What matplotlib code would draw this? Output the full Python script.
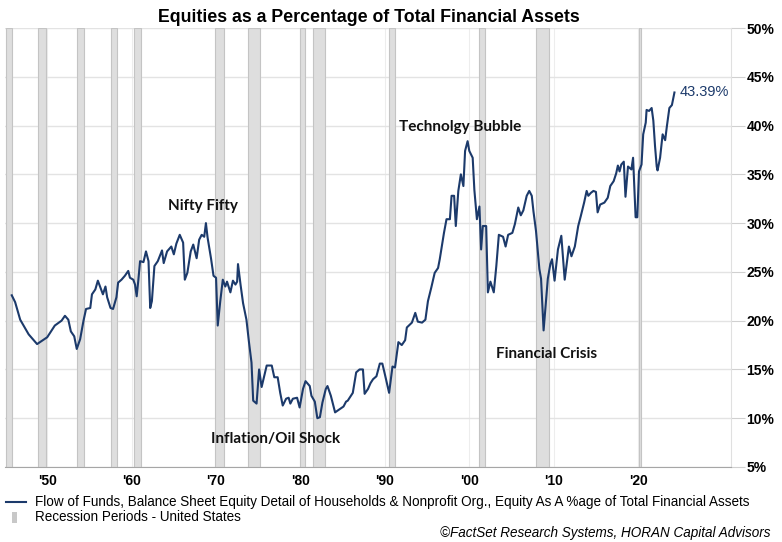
import matplotlib
matplotlib.use("Agg")
import matplotlib.pyplot as plt
from matplotlib.lines import Line2D
from matplotlib.patches import Rectangle

# equity share of total financial assets (%)
years = [1945.8, 1946.2, 1946.8, 1947.8, 1948.8, 1950.0, 1950.9, 1951.7, 1952.1, 1952.5,
         1952.8, 1953.2, 1953.5, 1953.9, 1954.3, 1954.6, 1955.1, 1955.3, 1955.7, 1956.0,
         1956.3, 1956.6, 1956.9, 1957.1, 1957.5, 1957.8, 1958.2, 1958.4, 1958.8, 1959.2,
         1959.6, 1959.8, 1960.2, 1960.4, 1960.6, 1960.8, 1961.0, 1961.4, 1961.7, 1962.0,
         1962.2, 1962.4, 1962.7, 1963.1, 1963.6, 1963.8, 1964.2, 1964.7, 1965.0, 1965.3,
         1965.7, 1966.1, 1966.3, 1966.6, 1967.0, 1967.3, 1967.7, 1968.0, 1968.3, 1968.6,
         1968.8, 1969.0, 1969.4, 1969.7, 1970.0, 1970.2, 1970.5, 1970.8, 1971.1, 1971.3,
         1971.7, 1972.0, 1972.3, 1972.5, 1972.6, 1972.9, 1973.2, 1973.6, 1973.9, 1974.2,
         1974.4, 1974.8, 1975.1, 1975.4, 1975.7, 1976.0, 1976.6, 1976.9, 1977.3, 1977.6,
         1977.9, 1978.3, 1978.6, 1978.8, 1979.1, 1979.6, 1979.9, 1980.3, 1980.6, 1981.1,
         1981.3, 1981.7, 1982.0, 1982.3, 1982.6, 1983.0, 1983.2, 1983.6, 1984.1, 1984.6,
         1985.1, 1985.4, 1985.6, 1986.2, 1986.6, 1987.0, 1987.4, 1987.6, 1988.0, 1988.3,
         1988.6, 1989.0, 1989.4, 1989.7, 1990.0, 1990.5, 1990.9, 1991.2, 1991.6, 1992.0,
         1992.4, 1992.6, 1993.2, 1993.6, 1993.9, 1994.4, 1994.8, 1995.1, 1995.5, 1995.9,
         1996.3, 1996.5, 1997.0, 1997.3, 1997.7, 1997.9, 1998.2, 1998.4, 1998.7, 1999.0,
         1999.3, 1999.5, 1999.8, 2000.0, 2000.4, 2000.6, 2000.9, 2001.2, 2001.4, 2001.6,
         2002.0, 2002.2, 2002.5, 2002.9, 2003.2, 2003.5, 2004.0, 2004.3, 2004.6, 2005.1,
         2005.4, 2005.8, 2006.1, 2006.4, 2006.8, 2007.1, 2007.4, 2007.6, 2007.9, 2008.3,
         2008.5, 2008.8, 2009.1, 2009.3, 2009.6, 2009.8, 2010.1, 2010.5, 2010.9, 2011.3,
         2011.8, 2012.1, 2012.5, 2012.9, 2013.2, 2013.6, 2013.9, 2014.1, 2014.4, 2014.7,
         2015.0, 2015.2, 2015.5, 2016.0, 2016.4, 2016.7, 2017.1, 2017.4, 2017.6, 2017.8,
         2018.0, 2018.3, 2018.5, 2018.8, 2019.2, 2019.4, 2019.7, 2019.9, 2020.1, 2020.4,
         2020.6, 2020.9, 2021.0, 2021.3, 2021.6, 2021.8, 2022.0, 2022.2, 2022.3, 2022.6,
         2022.9, 2023.2, 2023.4, 2023.7, 2024.0, 2024.3]
equity_pct = [22.6, 21.9, 20.1, 18.6, 17.6, 18.3, 19.5, 20.0, 20.5, 20.1,
              18.9, 18.4, 17.1, 18.1, 20.0, 21.2, 21.3, 22.7, 23.2, 24.1,
              23.4, 22.7, 23.5, 22.4, 21.3, 21.2, 22.4, 23.9, 24.2, 24.6,
              25.1, 24.4, 24.2, 23.7, 22.5, 24.2, 26.1, 26.0, 27.1, 26.1,
              21.3, 22.0, 25.6, 26.1, 27.2, 25.9, 27.1, 27.6, 26.8, 27.9,
              28.8, 28.0, 24.2, 24.9, 27.1, 27.8, 26.4, 28.3, 28.8, 28.6,
              30.0, 28.5, 26.4, 24.6, 24.4, 19.5, 22.0, 24.2, 23.5, 24.0,
              22.9, 24.1, 23.7, 24.0, 25.8, 23.7, 21.8, 20.1, 17.8, 15.7,
              11.8, 11.5, 15.0, 13.2, 14.3, 15.4, 15.4, 14.2, 14.2, 12.6,
              11.3, 12.0, 12.1, 11.5, 12.0, 12.1, 11.1, 13.0, 13.8, 13.3,
              12.3, 11.7, 10.0, 10.1, 11.6, 13.0, 13.3, 12.3, 10.6, 10.9,
              11.2, 11.7, 11.8, 12.6, 14.7, 15.0, 15.0, 12.5, 13.0, 13.6,
              14.0, 14.3, 15.6, 15.6, 14.5, 12.6, 15.3, 15.2, 17.8, 17.5,
              18.0, 19.3, 19.8, 20.8, 19.9, 19.8, 20.1, 22.0, 23.4, 24.9,
              25.4, 26.3, 29.0, 30.4, 30.4, 32.8, 32.8, 29.7, 33.3, 35.0,
              33.8, 37.4, 38.4, 37.4, 36.7, 33.4, 30.4, 31.7, 27.3, 29.7,
              29.7, 22.9, 24.0, 22.9, 25.6, 28.8, 28.6, 27.6, 28.8, 29.0,
              29.9, 31.6, 30.8, 31.3, 32.8, 33.3, 32.8, 31.2, 29.2, 25.3,
              24.3, 19.0, 22.2, 24.3, 25.8, 26.3, 24.1, 27.3, 28.7, 24.2,
              27.6, 26.6, 27.6, 29.7, 30.7, 32.1, 33.3, 32.8, 33.1, 33.3,
              33.2, 31.1, 31.9, 32.1, 32.6, 33.8, 34.3, 35.1, 35.9, 35.3,
              36.0, 36.3, 32.7, 35.8, 35.5, 36.7, 30.6, 30.6, 35.3, 36.0,
              39.1, 40.3, 41.6, 41.5, 41.8, 40.5, 37.9, 35.8, 35.4, 36.7,
              39.1, 38.5, 39.9, 41.8, 42.1, 43.39]

rec_start = [1945.1, 1948.9, 1953.5, 1957.6, 1960.3, 1969.9, 1973.8, 1980.0, 1981.5, 1990.5, 2001.2, 2007.9, 2020.1]
rec_end = [1945.8, 1949.8, 1954.4, 1958.3, 1961.1, 1970.9, 1975.2, 1980.5, 1982.9, 1991.2, 2001.9, 2009.5, 2020.3]

decades = [1950, 1960, 1970, 1980, 1990, 2000, 2010, 2020]
decade_labels = ["'50", "'60", "'70", "'80", "'90", "'00", "'10", "'20"]
yticks = [5, 10, 15, 20, 25, 30, 35, 40, 45, 50]

events = ["Nifty Fifty", "Technolgy Bubble", "Financial Crisis", "Inflation/Oil Shock"]
event_x = [1968.5, 1998.9, 2009.2, 1977.0]
event_y = [31.8, 39.9, 16.6, 7.9]

navy = "#1C3A6B"
W, H = 782, 542

fig = plt.figure(figsize=(W / 100, H / 100), dpi=100)
ax = fig.add_axes([5 / W, 1 - 467 / H, 726 / W, 439 / H])

for s, e in zip(rec_start, rec_end):
    ax.axvspan(s, e, facecolor="#DEDEDE", edgecolor="#C4C4C4", lw=0.8, zorder=1)

for d in decades:
    ax.axvline(d, color="#EDEDED", lw=0.8, zorder=0)
for t in yticks:
    ax.axhline(t, color="#E3E3E3", lw=1, zorder=0)

ax.plot(years, equity_pct, color=navy, lw=1.5, zorder=3)
ax.annotate(f"{equity_pct[-1]:.2f}%", (years[-1], equity_pct[-1]), xytext=(4, 0),
            textcoords="offset points", va="center", ha="left", color=navy,
            fontsize=10.5, family="Liberation Sans", zorder=4)

for name, ex, ey in zip(events, event_x, event_y):
    ax.text(ex, ey, name, ha="center", va="center", fontsize=11, fontweight="bold",
            family="Lato", color="#111111", zorder=4)

ax.set_xlim(1945.0, 2031.0)
ax.set_ylim(5, 50)
ax.set_xticks(decades)
ax.set_xticklabels(decade_labels)
ax.set_yticks(yticks)
ax.set_yticklabels([f"{t}%" for t in yticks])
ax.yaxis.tick_right()
ax.tick_params(axis="y", length=10, color="#D0D0D0", pad=1, labelsize=10)
ax.tick_params(axis="x", length=0, pad=5, labelsize=10)
for lab in ax.get_xticklabels() + ax.get_yticklabels():
    lab.set_fontweight("bold")
    lab.set_family("Liberation Sans")

for side in ["top", "left"]:
    ax.spines[side].set_visible(False)
ax.spines["right"].set_color("#E0E0E0")
ax.spines["bottom"].set_color("#A6A6A6")

fig.text(369 / W, 1 - 21.5 / H, "Equities as a Percentage of Total Financial Assets",
         ha="center", va="baseline", fontsize=12.8, fontweight="bold",
         family="Liberation Sans")

# legend underneath
fig.add_artist(Line2D([6 / W, 26 / W], [1 - 502 / H] * 2, color=navy, lw=1.5))
fig.text(35 / W, 1 - 502 / H,
         "Flow of Funds, Balance Sheet Equity Detail of Households & Nonprofit Org., "
         "Equity As A %age of Total Financial Assets",
         va="center", ha="left", fontsize=9.75, family="Liberation Sans")
fig.add_artist(Rectangle((12 / W, 1 - 523 / H), 5 / W, 11 / H, facecolor="#C8C8C8",
                         edgecolor="none", transform=fig.transFigure))
fig.text(35 / W, 1 - 517 / H, "Recession Periods - United States",
         va="center", ha="left", fontsize=9.75, family="Liberation Sans")
fig.text(770 / W, 1 - 533 / H, "\u00a9FactSet Research Systems, HORAN Capital Advisors",
         va="center", ha="right", fontsize=9.75, style="italic", family="Liberation Sans")

fig.savefig("out.png", dpi=100)
